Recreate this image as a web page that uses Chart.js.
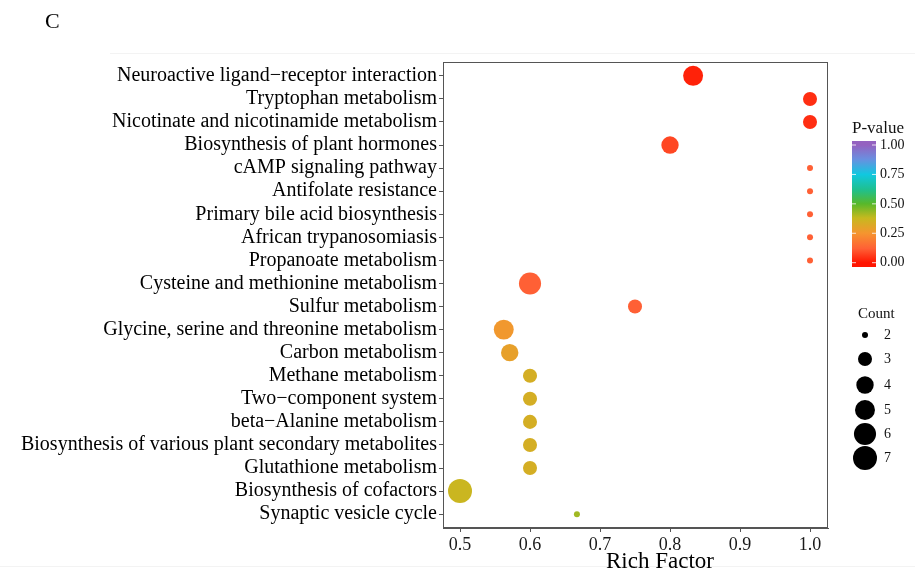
<!DOCTYPE html>
<html>
<head>
<meta charset="utf-8">
<script src="https://cdn.jsdelivr.net/npm/chart.js@4.4.1/dist/chart.umd.min.js"></script>
<style>
  html, body { margin: 0; padding: 0; background: #fff; }
  #wrap { position: relative; width: 915px; height: 581px; }
</style>
</head>
<body>
<div id="wrap"><canvas id="dotChart" width="915" height="581"></canvas></div>
<script>
// KEGG pathways, top to bottom
const pathways = [
  'Neuroactive ligand\u2212receptor interaction',
  'Tryptophan metabolism',
  'Nicotinate and nicotinamide metabolism',
  'Biosynthesis of plant hormones',
  'cAMP signaling pathway',
  'Antifolate resistance',
  'Primary bile acid biosynthesis',
  'African trypanosomiasis',
  'Propanoate metabolism',
  'Cysteine and methionine metabolism',
  'Sulfur metabolism',
  'Glycine, serine and threonine metabolism',
  'Carbon metabolism',
  'Methane metabolism',
  'Two\u2212component system',
  'beta\u2212Alanine metabolism',
  'Biosynthesis of various plant secondary metabolites',
  'Glutathione metabolism',
  'Biosynthesis of cofactors',
  'Synaptic vesicle cycle'
];
const richFactor = [0.833, 1.0, 1.0, 0.8, 1.0, 1.0, 1.0, 1.0, 1.0, 0.6, 0.75, 0.5625, 0.571, 0.6, 0.6, 0.6, 0.6, 0.6, 0.5, 0.667];
const geneCount = [5, 3, 3, 4, 2, 2, 2, 2, 2, 6, 3, 5, 4, 3, 3, 3, 3, 3, 7, 2];
const pValue = [0.02, 0.04, 0.04, 0.08, 0.12, 0.12, 0.12, 0.12, 0.12, 0.12, 0.12, 0.26, 0.29, 0.34, 0.34, 0.34, 0.34, 0.34, 0.37, 0.42];

const xTicks = [0.5, 0.6, 0.7, 0.8, 0.9, 1.0];
const pTicks = [0, 0.25, 0.5, 0.75, 1.0];
const countTicks = [2, 3, 4, 5, 6, 7];

// colour scale for P-value
const pStops = [
  [0.00, [255, 21, 0]],
  [0.12, [255, 96, 53]],
  [0.25, [245, 149, 47]],
  [0.38, [198, 185, 31]],
  [0.50, [88, 184, 42]],
  [0.62, [31, 192, 142]],
  [0.75, [16, 200, 224]],
  [0.88, [106, 143, 224]],
  [1.00, [148, 98, 192]]
];
function pColor(p) {
  for (let i = 1; i < pStops.length; i++) {
    const [p0, c0] = pStops[i - 1], [p1, c1] = pStops[i];
    if (p <= p1) {
      const t = (p - p0) / (p1 - p0);
      const c = c0.map((v, k) => Math.round(v + (c1[k] - v) * t));
      return 'rgb(' + c.join(',') + ')';
    }
  }
  return 'rgb(' + pStops[pStops.length - 1][1].join(',') + ')';
}
// size scale for Count (radius in px)
function countRadius(c) {
  return 3 + 9 * Math.sqrt((c - 2) / 5);
}

const serif = '"Liberation Serif", "Times New Roman", serif';

const legendPlugin = {
  id: 'sideLegend',
  afterDraw(chart) {
    const ctx = chart.ctx;
    const a = chart.chartArea;
    ctx.save();

    // faint page rules
    ctx.fillStyle = '#f3f3f3';
    ctx.fillRect(110, 53, 805, 1);
    ctx.fillRect(0, 566, 915, 1);

    // panel border
    ctx.strokeStyle = '#555';
    ctx.lineWidth = 1;
    ctx.strokeRect(Math.round(a.left) + 0.5, Math.round(a.top) + 0.5,
      Math.round(a.right - a.left) - 1, Math.round(a.bottom - a.top) - 1);

    // panel label
    ctx.fillStyle = '#000';
    ctx.font = '22px ' + serif;
    ctx.textBaseline = 'alphabetic';
    ctx.textAlign = 'left';
    ctx.fillText('C', 45, 28);

    // x axis title
    ctx.font = '23px ' + serif;
    ctx.textAlign = 'center';
    ctx.fillText('Rich Factor', 660, 568);
    ctx.textAlign = 'left';

    // P-value colour bar
    const bx = 852, bw = 24, y0 = 262.7, y1 = 145;
    const grad = ctx.createLinearGradient(0, y0, 0, y1);
    pStops.forEach(([p, c]) => grad.addColorStop(p, 'rgb(' + c.join(',') + ')'));
    ctx.fillStyle = grad;
    ctx.fillRect(bx, 141, bw, 126);
    ctx.fillStyle = '#111';
    ctx.font = '17px ' + serif;
    ctx.textBaseline = 'middle';
    ctx.fillText('P-value', 852, 129);
    ctx.font = '14px ' + serif;
    ctx.strokeStyle = 'rgba(255,255,255,0.8)';
    pTicks.forEach(p => {
      const y = y0 + (y1 - y0) * p;
      ctx.beginPath();
      ctx.moveTo(bx, y); ctx.lineTo(bx + 4, y);
      ctx.moveTo(bx + bw - 4, y); ctx.lineTo(bx + bw, y);
      ctx.stroke();
      ctx.fillText(p.toFixed(2), 880, y);
    });

    // Count size legend
    ctx.font = '15px ' + serif;
    ctx.fillText('Count', 858, 314);
    const cy = [335, 359, 385, 410, 434, 458];
    ctx.font = '14px ' + serif;
    countTicks.forEach((c, i) => {
      ctx.fillStyle = '#000';
      ctx.beginPath();
      ctx.arc(865, cy[i], countRadius(c), 0, Math.PI * 2);
      ctx.fill();
      ctx.fillStyle = '#111';
      ctx.fillText(String(c), 884, cy[i]);
    });
    ctx.restore();
  }
};

const ctx = document.getElementById('dotChart').getContext('2d');
new Chart(ctx, {
  type: 'bubble',
  data: {
    datasets: [{
      data: pathways.map((name, i) => ({ x: richFactor[i], y: i + 1, r: countRadius(geneCount[i]) })),
      backgroundColor: pValue.map(pColor),
      borderWidth: 0,
      hoverRadius: 0
    }]
  },
  options: {
    responsive: false,
    animation: false,
    events: [],
    layout: { padding: { top: 62, right: 87, left: 0, bottom: 0 } },
    plugins: { legend: { display: false }, tooltip: { enabled: false } },
    scales: {
      x: {
        type: 'linear',
        min: 0.4757,
        max: 1.0257,
        afterBuildTicks: s => { s.ticks = xTicks.map(v => ({ value: v })); },
        afterFit: s => { s.height = 53; },
        grid: { drawOnChartArea: false, drawTicks: true, tickLength: 4, color: '#555' },
        border: { display: true, color: '#555' },
        ticks: {
          padding: 2,
          color: '#1a1a1a',
          font: { family: serif, size: 18 },
          callback: v => Number(v).toFixed(1)
        }
      },
      y: {
        type: 'linear',
        reverse: true,
        min: 0.4,
        max: 20.6,
        afterBuildTicks: s => { s.ticks = pathways.map((_, i) => ({ value: i + 1 })); },
        afterFit: s => { s.width = 443; },
        grid: { drawOnChartArea: false, drawTicks: true, tickLength: 4, color: '#555' },
        border: { display: true, color: '#555' },
        ticks: {
          padding: 2,
          color: '#000',
          autoSkip: false,
          font: { family: serif, size: 20 },
          callback: v => pathways[Math.round(v) - 1]
        }
      }
    }
  },
  plugins: [legendPlugin]
});
</script>
</body>
</html>
